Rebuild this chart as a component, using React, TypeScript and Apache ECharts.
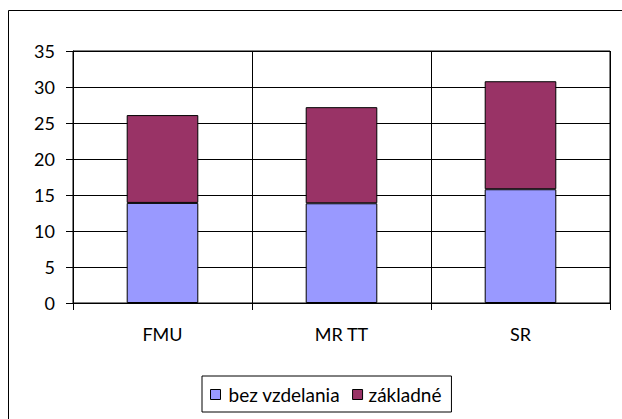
import React, { useEffect, useRef } from "react";
import * as echarts from "echarts";

const categories = ["FMU", "MR TT", "SR"];
const bezVzdelania = [13.9, 13.85, 15.8];
const zakladne = [12.2, 13.35, 15.0];
const seriesNames = ["bez vzdelania", "základné"];

export default function App() {
  const ref = useRef<HTMLDivElement>(null);
  useEffect(() => {
    if (!ref.current) return;
    const chart = echarts.init(ref.current, null, { renderer: "svg" });
    const font = "Lato, 'Open Sans', sans-serif";
    chart.setOption({
      animation: false,
      textStyle: { fontFamily: font },
      grid: {
        left: 73,
        right: 12,
        top: 51,
        bottom: 116,
        show: true,
        borderColor: "#000",
        borderWidth: 1,
      },
      graphic: [
        {
          type: "rect",
          shape: { x: 8.5, y: 10.5, width: 700, height: 500 },
          style: { fill: "none", stroke: "#000", lineWidth: 1 },
          silent: true,
        },
      ],
      legend: {
        left: 202,
        top: 376,
        padding: [9, 10, 8, 8],
        borderColor: "#000",
        borderWidth: 1,
        itemWidth: 10,
        itemHeight: 10,
        itemGap: 12,
        icon: "rect",
        textStyle: { fontFamily: font, fontSize: 19, color: "#000" },
        data: [
          {
            name: seriesNames[0],
            itemStyle: { borderColor: "#000", borderWidth: 1 },
            textStyle: { fontFamily: font, fontSize: 19, color: "#000", padding: [0, 14, 0, 3] },
          },
          {
            name: seriesNames[1],
            itemStyle: { borderColor: "#000", borderWidth: 1 },
            textStyle: { fontFamily: font, fontSize: 19, color: "#000", padding: [0, 4, 0, 1] },
          },
        ],
      },
      xAxis: {
        type: "category",
        data: categories,
        boundaryGap: true,
        axisLine: { lineStyle: { color: "#000", width: 1 } },
        axisTick: { show: true, length: 7, lineStyle: { color: "#000" } },
        axisLabel: { color: "#000", fontSize: 18, margin: 22, fontFamily: font },
        splitLine: { show: true, lineStyle: { color: "#000", width: 1 } },
      },
      yAxis: {
        type: "value",
        min: 0,
        max: 35,
        interval: 5,
        axisLine: { show: true, lineStyle: { color: "#000", width: 1 } },
        axisTick: { show: true, length: 7, lineStyle: { color: "#000" } },
        axisLabel: { color: "#000", fontSize: 18, margin: 18, fontFamily: font },
        splitLine: { show: true, lineStyle: { color: "#000", width: 1 } },
      },
      series: [
        {
          name: seriesNames[0],
          type: "bar",
          stack: "total",
          barWidth: "40%",
          data: bezVzdelania,
          itemStyle: { color: "#9999FF", borderColor: "#000", borderWidth: 1 },
        },
        {
          name: seriesNames[1],
          type: "bar",
          stack: "total",
          barWidth: "40%",
          data: zakladne,
          itemStyle: { color: "#993366", borderColor: "#000", borderWidth: 1 },
        },
      ],
    });
    return () => chart.dispose();
  }, []);
  return (
    <div
      ref={ref}
      style={{ position: "fixed", left: 0, top: 0, width: 622, height: 419, background: "#fff" }}
    />
  );
}
